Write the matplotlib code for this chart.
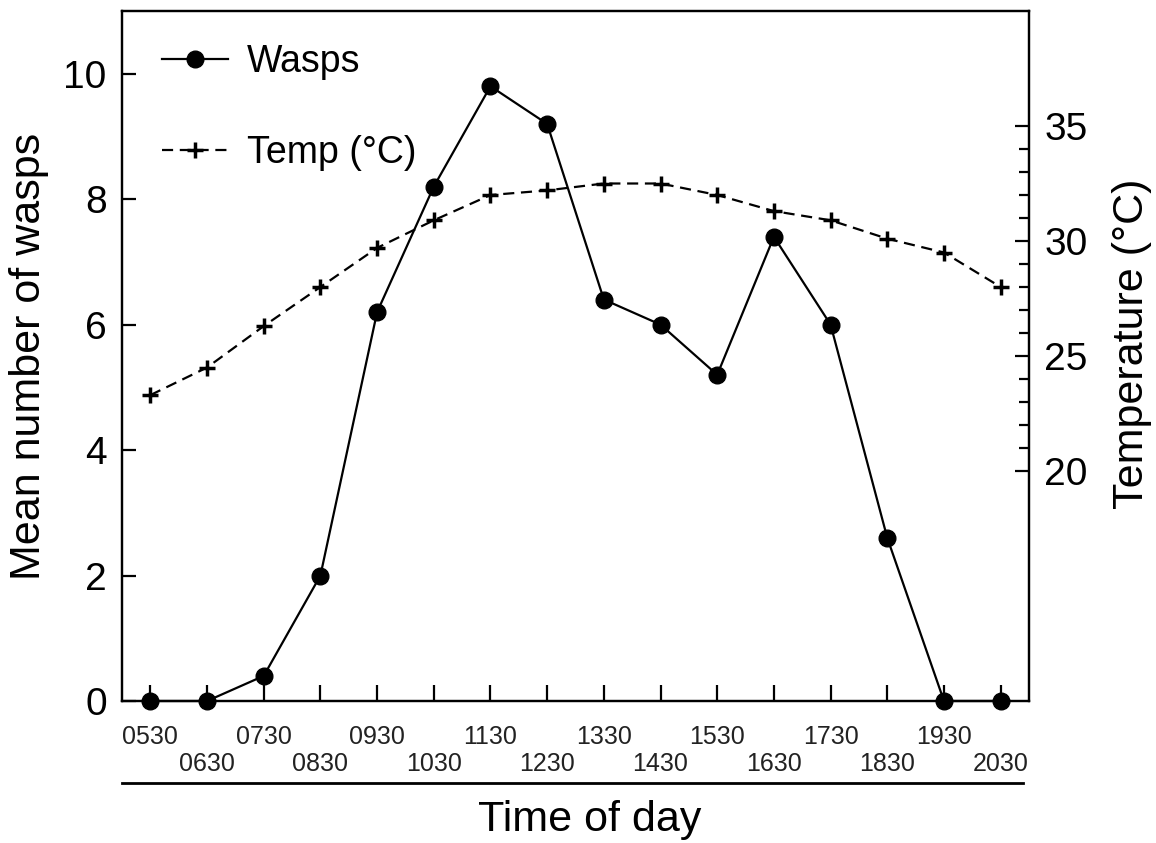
import matplotlib
matplotlib.use("Agg")
import matplotlib.pyplot as plt

plt.rcParams['font.family'] = ['Liberation Sans', 'DejaVu Sans']

times = ["0530", "0630", "0730", "0830", "0930", "1030", "1130", "1230",
         "1330", "1430", "1530", "1630", "1730", "1830", "1930", "2030"]
wasps = [0, 0, 0.4, 2.0, 6.2, 8.2, 9.8, 9.2, 6.4, 6.0, 5.2, 7.4, 6.0, 2.6, 0, 0]
temp = [23.3, 24.5, 26.3, 28.0, 29.7, 30.9, 32.0, 32.2,
        32.5, 32.5, 32.0, 31.3, 30.9, 30.1, 29.5, 28.0]

x = list(range(len(times)))

fig = plt.figure(figsize=(11.56, 8.43), dpi=100)
ax = fig.add_axes([122/1156, 1-701/843, 907/1156, 690/843])
ax2 = ax.twinx()

l1, = ax.plot(x, wasps, '-', color='black', lw=1.6, marker='o', ms=12,
              clip_on=False, zorder=5, label='Wasps')
l2, = ax2.plot(x, temp, color='black', lw=1.6, linestyle=(0, (5, 3)),
               marker='+', ms=11, mew=2.5, label='Temp (\u00b0C)')

ax.set_xlim(-0.5, 15.5)
ax.set_ylim(0, 11)
ax2.set_ylim(10, 40)

for s in ax.spines.values():
    s.set_linewidth(1.6)
for s in ax2.spines.values():
    s.set_linewidth(1.6)

# x ticks in two rows
ax.set_xticks(x[0::2])
ax.set_xticklabels(times[0::2])
ax.set_xticks(x[1::2], minor=True)
ax.set_xticklabels(times[1::2], minor=True)
ax.tick_params(axis='x', which='major', direction='in', length=11.5, width=1.6,
               pad=17, labelsize=18, labelcolor='#222222')
ax.tick_params(axis='x', which='minor', direction='in', length=11.5, width=1.6,
               pad=37, labelsize=18, labelcolor='#222222')

ax.set_yticks([0, 2, 4, 6, 8, 10])
ax.tick_params(axis='y', direction='in', length=10, width=1.6, pad=11, labelsize=28)

ax2.set_yticks([20, 25, 30, 35])
ax2.set_yticks([v for v in range(21, 35) if v % 5 != 0], minor=True)
ax2.tick_params(axis='y', which='major', direction='in', length=10, width=1.6,
                pad=11, labelsize=28)
ax2.tick_params(axis='y', which='minor', direction='in', length=7, width=1.6)

ax.set_ylabel("Mean number of wasps", fontsize=31)
ax.yaxis.set_label_coords(-0.08, 0.5)
ax2.set_ylabel("Temperature (\u00b0C)", fontsize=31)
ax2.yaxis.set_label_coords(1.092, 0.517)

# line under the tick labels
ax.plot([0, 0.993], [-0.119, -0.119], color='black', lw=2,
        transform=ax.transAxes, clip_on=False)
fig.text(590/1156, 1-820/843, "Time of day", fontsize=31, ha='center', va='center')

ax2.legend(handles=[l1, l2], loc='upper left', bbox_to_anchor=(0.044, 0.952),
           frameon=False, fontsize=27, borderpad=0, borderaxespad=0,
           handlelength=1.76, handletextpad=0.5, labelspacing=1.46)

fig.savefig("out.png", dpi=100)
